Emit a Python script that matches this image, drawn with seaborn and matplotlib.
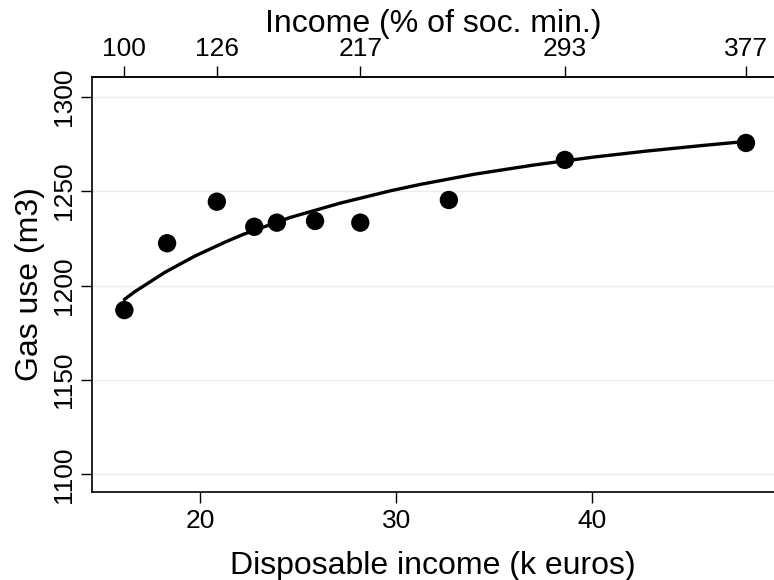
import numpy as np
import matplotlib
matplotlib.use("Agg")
import matplotlib.pyplot as plt
import seaborn as sns

# observed group means
income_k = [16.12, 18.3, 20.84, 22.75, 23.9, 25.85, 28.16, 32.68, 38.6, 47.84]
gas_use = [1187.0, 1222.4, 1244.4, 1231.1, 1233.3, 1234.2, 1233.3, 1245.3, 1266.5, 1275.5]

# fitted curve
curve_x = [16.12, 16.66, 18.19, 19.72, 21.26, 22.19, 24.57, 27.12, 29.67,
           31.2, 34.01, 37.07, 40.13, 42.77, 45.66, 47.84]
curve_y = [1192.6, 1196.8, 1207.0, 1215.6, 1223.0, 1227.1, 1236.0, 1243.6, 1250.1,
           1253.5, 1259.0, 1263.9, 1268.1, 1271.2, 1274.2, 1276.3]

# top axis: income as % of social minimum
top_ticks_x = [16.12, 20.84, 28.16, 38.6, 47.84]
top_labels = ["100", "126", "217", "293", "377"]

x_ticks = [20, 30, 40]
y_ticks = [1100, 1150, 1200, 1250, 1300]

sns.set_style("white")
plt.rcParams["font.family"] = ["Liberation Sans", "DejaVu Sans"]
plt.rcParams["text.color"] = "black"
plt.rcParams["axes.labelcolor"] = "black"
plt.rcParams["xtick.color"] = "black"
plt.rcParams["ytick.color"] = "black"

fig = plt.figure(figsize=(7.74, 5.8), dpi=100)
ax = fig.add_axes([0.1194, 0.1512, 0.8806, 0.7166])

for yv in y_ticks:
    ax.axhline(yv, color="#e6eef0", lw=1.0, zorder=0)

sns.lineplot(x=curve_x, y=curve_y, color="black", lw=2.4, estimator=None,
             sort=True, ax=ax, zorder=2)
sns.scatterplot(x=income_k, y=gas_use, s=175, color="black", edgecolor="none",
                ax=ax, zorder=3)

ax.set_xlim(14.49, 49.27)
ax.set_ylim(1090.5, 1310.6)

ax.set_xticks(x_ticks)
ax.set_xticklabels([str(v) for v in x_ticks])
ax.set_yticks(y_ticks)
ax.set_yticklabels([str(v) for v in y_ticks], rotation=90, va="center")

ax.tick_params(axis="both", direction="out", length=8, width=1.0,
               color="black", labelcolor="black", labelsize=19, pad=4)
ax.tick_params(axis="x", bottom=True)
ax.tick_params(axis="y", left=True)

for side in ["left", "bottom", "top"]:
    ax.spines[side].set_color("black")
    ax.spines[side].set_linewidth(1.2)
ax.spines["right"].set_visible(False)

ax.set_xlabel("Disposable income (k euros)", fontsize=23, labelpad=13)
ax.set_ylabel("Gas use (m3)", fontsize=23, labelpad=5)

top = ax.secondary_xaxis("top")
top.set_xticks(top_ticks_x)
top.set_xticklabels(top_labels)
top.tick_params(direction="out", length=8, width=1.0, color="black",
                labelcolor="black", labelsize=19, pad=3)
top.spines["top"].set_linewidth(1.2)
top.set_xlabel("Income (% of soc. min.)", fontsize=23, labelpad=4)

fig.savefig("out.png", dpi=100)
